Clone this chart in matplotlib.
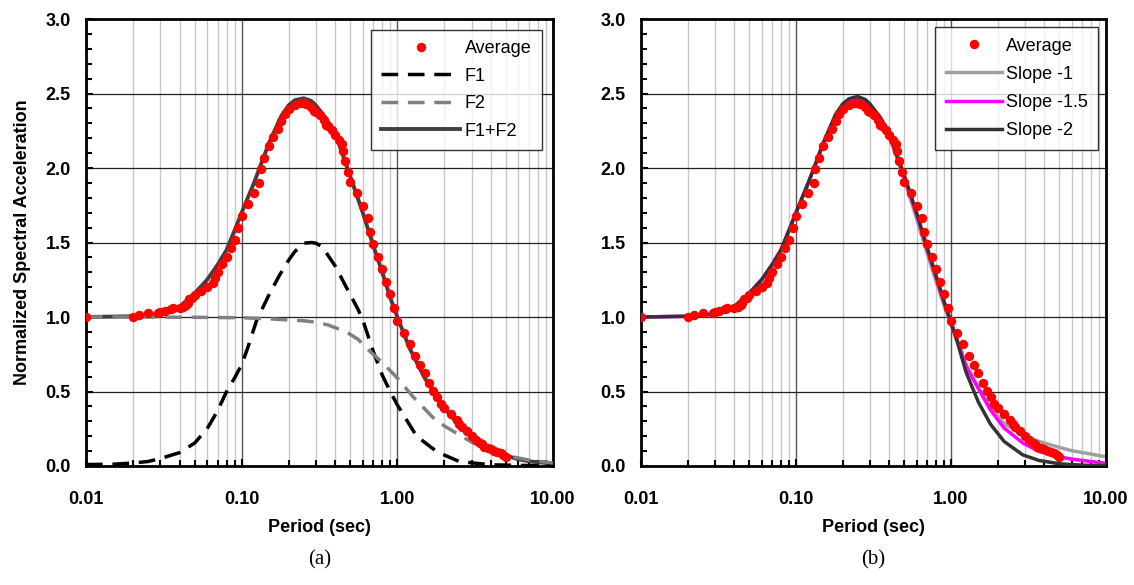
import matplotlib
matplotlib.use("Agg")
import matplotlib.pyplot as plt
from matplotlib.ticker import FixedLocator, LogLocator, NullFormatter, FixedFormatter

plt.rcParams['font.family'] = ['Liberation Sans', 'DejaVu Sans']

# averaged normalized spectrum (red dots)
avg_T = [0.01, 0.02, 0.022, 0.025, 0.029, 0.03, 0.032, 0.035, 0.036, 0.04, 0.042, 0.044,
         0.045, 0.046, 0.048, 0.05, 0.055, 0.06, 0.065, 0.067, 0.07, 0.075, 0.08, 0.085,
         0.09, 0.095, 0.1, 0.11, 0.12, 0.13, 0.133, 0.14, 0.15, 0.16, 0.17, 0.18, 0.19,
         0.2, 0.22, 0.24, 0.25, 0.26, 0.28, 0.29, 0.3, 0.32, 0.34, 0.35, 0.36, 0.38, 0.4,
         0.42, 0.44, 0.45, 0.46, 0.48, 0.5, 0.55, 0.6, 0.65, 0.667, 0.7, 0.75, 0.8, 0.85,
         0.9, 0.95, 1.0, 1.1, 1.2, 1.3, 1.4, 1.5, 1.6, 1.7, 1.8, 1.9, 2.0, 2.2, 2.4, 2.5,
         2.6, 2.8, 3.0, 3.2, 3.4, 3.5, 3.6, 3.8, 4.0, 4.2, 4.4, 4.6, 4.8, 5.0]
avg_Sa = [1.00, 1.00, 1.015, 1.025, 1.03, 1.035, 1.04, 1.055, 1.06, 1.06, 1.07, 1.08,
          1.095, 1.12, 1.13, 1.145, 1.175, 1.20, 1.23, 1.265, 1.30, 1.355, 1.40, 1.46,
          1.52, 1.60, 1.68, 1.76, 1.83, 1.90, 1.99, 2.07, 2.15, 2.21, 2.26, 2.315, 2.36,
          2.395, 2.42, 2.435, 2.435, 2.43, 2.41, 2.385, 2.375, 2.354, 2.322, 2.29, 2.28, 2.255, 2.22,
          2.19, 2.16, 2.114, 2.05, 1.975, 1.906, 1.834, 1.747, 1.662, 1.573, 1.488, 1.40, 1.322, 1.233,
          1.154, 1.063, 0.97, 0.895, 0.816, 0.741, 0.678, 0.622, 0.559, 0.505, 0.461, 0.414, 0.387, 0.349, 0.31, 0.28,
          0.26, 0.237, 0.20, 0.174, 0.152, 0.145, 0.13, 0.12, 0.112, 0.10, 0.094, 0.085, 0.075, 0.063]

# panel (a) components
f1_T = [0.01, 0.015, 0.02, 0.025, 0.03, 0.04, 0.05, 0.06, 0.07, 0.08, 0.09, 0.1, 0.11, 0.125,
        0.15, 0.175, 0.2, 0.22, 0.25, 0.28, 0.3, 0.33, 0.4, 0.47, 0.56, 0.6, 0.7, 0.8, 0.9,
        1.0, 1.1, 1.33, 1.8, 2.5, 4.0, 10.0]
f1_Sa = [0.01, 0.012, 0.02, 0.03, 0.05, 0.09, 0.155, 0.25, 0.37, 0.50, 0.59, 0.68, 0.80, 0.98,
         1.15, 1.28, 1.38, 1.44, 1.495, 1.50, 1.495, 1.47, 1.34, 1.20, 1.05, 0.98, 0.77, 0.61, 0.50,
         0.41, 0.34, 0.20, 0.095, 0.03, 0.008, 0.0]

f2_T = [0.01, 0.02, 0.05, 0.1, 0.15, 0.2, 0.25, 0.3, 0.36, 0.47, 0.56, 0.65, 0.79, 0.96,
        1.02, 1.26, 1.79, 2.4, 3.0, 4.0, 5.0, 7.0, 10.0]
f2_Sa = [1.0, 1.0, 0.998, 0.995, 0.988, 0.98, 0.975, 0.965, 0.946, 0.90, 0.85, 0.78, 0.70, 0.61,
         0.58, 0.465, 0.30, 0.22, 0.16, 0.10, 0.07, 0.04, 0.02]

sum_T = [0.01, 0.02, 0.03, 0.04, 0.05, 0.06, 0.07, 0.08, 0.09, 0.1, 0.12, 0.15, 0.18, 0.2,
         0.22, 0.25, 0.28, 0.3, 0.35, 0.4, 0.5, 0.6, 0.7, 0.8, 0.9, 1.0, 1.2, 1.5, 2.0, 2.5,
         3.0, 4.0, 5.0, 6.0, 7.0, 8.0, 10.0]
sum_Sa = [1.0, 1.005, 1.02, 1.07, 1.16, 1.25, 1.35, 1.45, 1.58, 1.70, 1.90, 2.17, 2.35, 2.42,
          2.455, 2.468, 2.45, 2.42, 2.33, 2.23, 1.94, 1.70, 1.48, 1.30, 1.13, 1.0, 0.79, 0.59, 0.39, 0.27,
          0.19, 0.118, 0.07, 0.045, 0.032, 0.025, 0.018]

# panel (b) slope variants
slope_T = [0.01, 0.02, 0.03, 0.04, 0.05, 0.06, 0.07, 0.08, 0.09, 0.1, 0.12, 0.15, 0.18, 0.2,
           0.22, 0.25, 0.28, 0.3, 0.35, 0.4, 0.5, 0.6, 0.7, 0.8, 0.9, 1.0, 1.1, 1.25, 1.5,
           1.8, 2.2, 2.9, 3.7, 5.0, 6.0, 8.0, 10.0]
slope1 = [1.0, 1.005, 1.02, 1.07, 1.16, 1.25, 1.35, 1.45, 1.58, 1.70, 1.90, 2.16, 2.34, 2.41,
          2.445, 2.46, 2.44, 2.41, 2.32, 2.21, 1.92, 1.66, 1.43, 1.24, 1.08, 0.95, 0.84, 0.68, 0.53,
          0.39, 0.285, 0.21, 0.165, 0.125, 0.103, 0.08, 0.062]
slope15 = [1.0, 1.005, 1.02, 1.07, 1.16, 1.25, 1.35, 1.45, 1.58, 1.70, 1.90, 2.16, 2.35, 2.42,
           2.455, 2.47, 2.45, 2.42, 2.33, 2.22, 1.94, 1.69, 1.46, 1.27, 1.10, 0.97, 0.84, 0.67, 0.52,
           0.375, 0.255, 0.155, 0.097, 0.062, 0.046, 0.03, 0.018]
slope2 = [1.0, 1.005, 1.02, 1.07, 1.16, 1.25, 1.35, 1.45, 1.58, 1.70, 1.90, 2.17, 2.36, 2.43,
          2.465, 2.48, 2.46, 2.43, 2.34, 2.23, 1.95, 1.70, 1.47, 1.28, 1.11, 0.96, 0.83, 0.63, 0.43,
          0.28, 0.165, 0.075, 0.037, 0.015, 0.009, 0.004, 0.002]

xticks = [0.01, 0.1, 1.0, 10.0]
xlabels = ["0.01", "0.10", "1.00", "10.00"]


def style_axes(ax):
    ax.set_xscale('log')
    ax.set_xlim(0.01, 10)
    ax.set_ylim(0, 3.0)
    ax.xaxis.set_major_locator(FixedLocator(xticks))
    ax.xaxis.set_major_formatter(FixedFormatter(xlabels))
    ax.xaxis.set_minor_locator(LogLocator(base=10, subs=range(2, 10)))
    ax.xaxis.set_minor_formatter(NullFormatter())
    ax.set_yticks([0, 0.5, 1.0, 1.5, 2.0, 2.5, 3.0])
    ax.set_yticklabels(["0.0", "0.5", "1.0", "1.5", "2.0", "2.5", "3.0"])
    ax.set_yticks([i / 10 for i in range(31)], minor=True)
    ax.grid(which='minor', axis='x', color='#c8c8c8', lw=1)
    ax.grid(which='major', axis='x', color='#555555', lw=1)
    ax.grid(which='major', axis='y', color='#222222', lw=0.9)
    ax.set_axisbelow(True)
    ax.tick_params(which='both', direction='in', top=False, right=False, width=1.5)
    ax.tick_params(which='major', length=5, labelsize=13)
    ax.tick_params(which='minor', length=4)
    ax.tick_params(axis='x', which='major', pad=18)
    ax.tick_params(axis='y', which='major', pad=11)
    for lbl in ax.get_xticklabels() + ax.get_yticklabels():
        lbl.set_fontweight('bold')
    for s in ax.spines.values():
        s.set_linewidth(2)
    ax.set_xlabel("Period (sec)", fontsize=13, fontweight='bold', labelpad=8)


fig = plt.figure(figsize=(11.34, 5.85), dpi=100)
ax1 = fig.add_axes([86 / 1134, 119 / 585, 467 / 1134, 447 / 585])
ax2 = fig.add_axes([641 / 1134, 119 / 585, 465 / 1134, 447 / 585])

# (a)
ax1.plot(sum_T, sum_Sa, color='#404040', lw=2.8, zorder=2, label='F1+F2')
ax1.plot(f1_T, f1_Sa, color='black', lw=2.5, dashes=(4.8, 2.8), zorder=3, label='F1')
ax1.plot(f2_T, f2_Sa, color='#808080', lw=2.5, dashes=(4.8, 2.8), zorder=3, label='F2')
ax1.plot(avg_T, avg_Sa, 'o', color='red', ms=5.8, zorder=4, label='Average')
style_axes(ax1)
ax1.set_ylabel("Normalized Spectral Acceleration", fontsize=13, fontweight='bold', labelpad=10)
h, l = ax1.get_legend_handles_labels()
order = [3, 1, 2, 0]
leg1 = ax1.legend([h[i] for i in order], [l[i] for i in order], loc='upper right',
                  fontsize=13, frameon=True, fancybox=False, edgecolor='black',
                  handlelength=4.4, borderaxespad=0.6, labelspacing=0.58, handletextpad=0.25,
                  borderpad=0.58)
leg1.get_frame().set_linewidth(1.0)

# (b)
ax2.plot(slope_T, slope1, color='#a0a0a0', lw=2.5, zorder=2, label='Slope -1')
ax2.plot(slope_T, slope15, color='#ff00ff', lw=2.5, zorder=2, label='Slope -1.5')
ax2.plot(slope_T, slope2, color='#333333', lw=2.5, zorder=3, label='Slope -2')
ax2.plot(avg_T, avg_Sa, 'o', color='red', ms=5.8, zorder=4, label='Average')
style_axes(ax2)
h, l = ax2.get_legend_handles_labels()
order = [3, 0, 1, 2]
leg2 = ax2.legend([h[i] for i in order], [l[i] for i in order], loc='upper right',
                  fontsize=13, frameon=True, fancybox=False, edgecolor='black',
                  handlelength=3.1, borderaxespad=0.45, labelspacing=0.62, handletextpad=0.2,
                  borderpad=0.58)
leg2.get_frame().set_linewidth(1.0)

fig.text(320 / 1134, 1 - 560 / 585, "(a)", family='Liberation Serif', fontsize=15,
         ha='center', va='center')
fig.text(873 / 1134, 1 - 560 / 585, "(b)", family='Liberation Serif', fontsize=15,
         ha='center', va='center')

fig.savefig("out.png", dpi=100)
